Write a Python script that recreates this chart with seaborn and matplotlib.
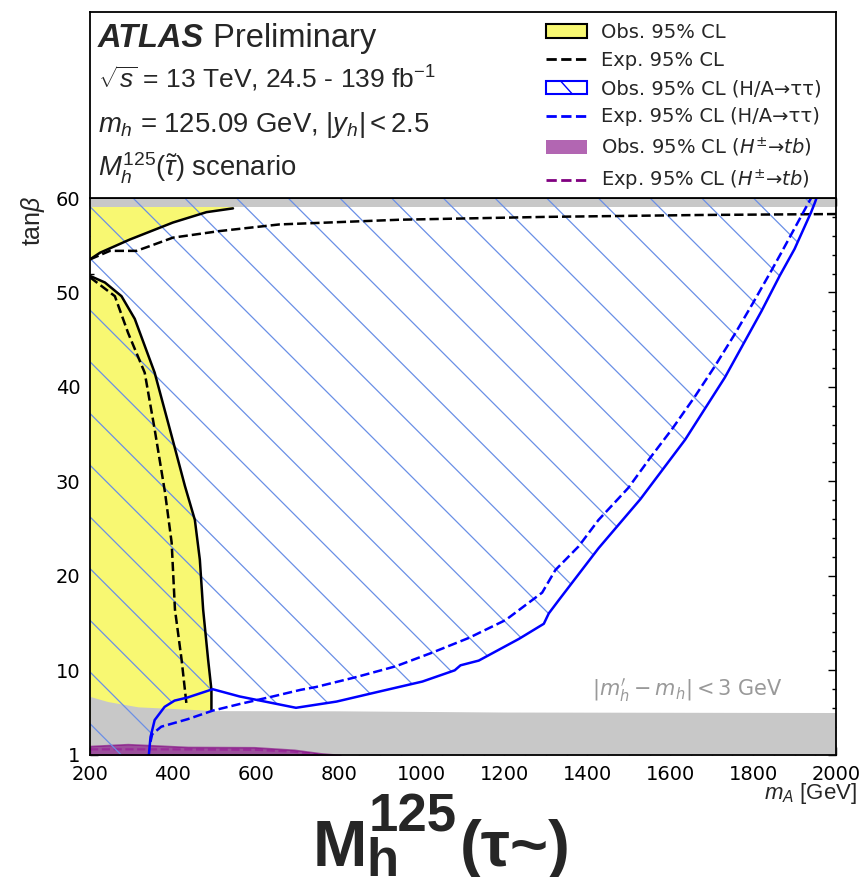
import numpy as np
import matplotlib
matplotlib.use("Agg")
import matplotlib.pyplot as plt
import seaborn as sns
from matplotlib import font_manager
from matplotlib.patches import Polygon, Rectangle, Patch
from matplotlib.lines import Line2D
from matplotlib.collections import LineCollection
from matplotlib.legend_handler import HandlerBase
from matplotlib.font_manager import FontProperties
from matplotlib.ticker import MultipleLocator, FixedLocator

# ---------------- exclusion contours (m_A [GeV], tan beta) ----------------
# observed H/A -> tautau
mA_obs_tt = [342, 346, 356, 380, 404, 436, 496, 561, 697, 795, 898, 1002, 1080, 1094,
             1138, 1235, 1295, 1307, 1331, 1427, 1528, 1636, 1732, 1820, 1864, 1900,
             1940, 1949, 1953]
tanb_obs_tt = [1.0, 2.9, 4.7, 6.1, 6.76, 7.1, 7.97, 7.2, 6.0, 6.66, 7.72, 8.78, 9.97, 10.5,
               11.0, 13.3, 14.9, 16.0, 17.4, 22.9, 28.1, 34.4, 41.0, 48.0, 51.75, 54.6,
               58.5, 59.5, 60.0]
# expected H/A -> tautau
mA_exp_tt = [346, 350, 372, 436, 496, 561, 641, 708, 745, 842, 938, 1026, 1114, 1203,
             1291, 1323, 1379, 1427, 1499, 1552, 1604, 1660, 1708, 1756, 1800, 1844,
             1868, 1925, 1940]
tanb_exp_tt = [2.4, 3.2, 4.0, 4.8, 5.7, 6.4, 7.2, 7.9, 8.2, 9.25, 10.4, 11.85, 13.4, 15.3,
               18.2, 20.6, 23.1, 25.9, 29.3, 32.5, 35.5, 39.0, 42.2, 45.6, 48.9, 52.3,
               54.2, 58.8, 60.0]

# combined observed / expected, low-m_A region
mA_obs_low = [200, 236, 276, 308, 356, 397, 429, 453, 465, 473, 485, 493, 493]
tanb_obs_low = [51.75, 51.05, 49.6, 47.2, 41.5, 34.8, 29.5, 25.9, 21.7, 16.4, 11.1, 7.9, 5.8]
mA_exp_low = [200, 260, 292, 332, 356, 381, 397, 405, 421, 433]
tanb_exp_low = [51.6, 49.6, 45.7, 41.5, 35.5, 28.8, 23.5, 16.4, 11.1, 6.3]

# combined observed / expected, high-tan beta region
mA_obs_high = [200, 224, 296, 400, 481, 545]
tanb_obs_high = [53.5, 54.2, 55.6, 57.4, 58.5, 58.9]
mA_exp_high = [200, 248, 312, 344, 400, 513, 657, 948, 1300, 1672, 2000]
tanb_exp_high = [53.5, 54.4, 54.4, 54.9, 55.8, 56.5, 57.2, 57.7, 58.0, 58.2, 58.3]

# H+ -> tb
mA_hp_obs = [200, 291, 436, 596, 693, 756, 804]
tanb_hp_obs = [1.95, 2.15, 1.85, 1.82, 1.55, 1.18, 1.0]
mA_hp_exp = [200, 400, 600, 690, 750]
tanb_hp_exp = [1.6, 1.6, 1.55, 1.35, 1.05]

# region where |m_h' - m_h| < 3 GeV is not satisfied
mA_mh_band = [200, 243, 316, 436, 500, 800, 1200, 2000]
tanb_mh_band = [7.2, 6.66, 6.1, 5.85, 5.7, 5.68, 5.55, 5.5]
tanb_top_band = [59.0, 60.0]

x_ticks = [200, 400, 600, 800, 1000, 1200, 1400, 1600, 1800, 2000]
y_ticks = [1, 10, 20, 30, 40, 50, 60]

legend_labels = [
    "Obs. 95% CL",
    "Exp. 95% CL",
    "Obs. 95% CL (H/A→ττ)",
    "Exp. 95% CL (H/A→ττ)",
    r"Obs. 95% CL ($H^{\pm}$→$tb$)",
    r"Exp. 95% CL ($H^{\pm}$→$tb$)",
]

# ---------------- style ----------------
sns.set_theme(style="ticks")
plt.rcParams["font.family"] = ["DejaVu Sans"]
plt.rcParams["mathtext.fontset"] = "custom"
plt.rcParams["mathtext.rm"] = "Liberation Sans"
plt.rcParams["mathtext.it"] = "Liberation Sans:italic"
plt.rcParams["mathtext.bf"] = "Liberation Sans:bold"
plt.rcParams["axes.edgecolor"] = "black"
plt.rcParams["axes.linewidth"] = 1.3

installed = {f.name for f in font_manager.fontManager.ttflist}
if "Liberation Sans Narrow" in installed:
    TITLE_FAMILY, TITLE_BIG, TITLE_SMALL = "Liberation Sans Narrow", 58, 40
else:
    TITLE_FAMILY, TITLE_BIG, TITLE_SMALL = "Liberation Sans", 47, 38

YELLOW = "#F8F872"
GRAY = "#C8C8C8"
BLUE = "#0000FF"
HATCH = "#6A8FE6"
PURPLE = "#800080"

W, H = 864, 877
fig = plt.figure(figsize=(W / 100, H / 100), dpi=100)
L, R, B, T, TT = 90, 836, 755, 198, 12
ax = fig.add_axes([L / W, 1 - B / H, (R - L) / W, (B - T) / H])
ax_top = fig.add_axes([L / W, 1 - T / H, (R - L) / W, (T - TT) / H])

ax.set_xlim(x_ticks[0], x_ticks[-1])
ax.set_ylim(y_ticks[0], y_ticks[-1])

# yellow: combined observed exclusion
ax.fill(mA_obs_low + [mA_obs_low[-1], mA_obs_low[0]],
        tanb_obs_low + [y_ticks[0], y_ticks[0]], color=YELLOW, lw=0, zorder=1)
ax.fill_between(mA_obs_high, tanb_obs_high, y_ticks[-1], color=YELLOW, lw=0, zorder=1)

# grey: light-Higgs mass constraint
ax.fill_between(mA_mh_band, y_ticks[0], tanb_mh_band, color=GRAY, lw=0, zorder=2)
ax.axhspan(tanb_top_band[0], tanb_top_band[1], color=GRAY, lw=0, zorder=2)

# purple: H+ -> tb
sns.lineplot(x=mA_hp_exp, y=tanb_hp_exp, sort=False, estimator=None, ax=ax,
             color="#C070C0", lw=1.6, linestyle="--", zorder=3)
ax.fill_between(mA_hp_obs, y_ticks[0], tanb_hp_obs, color=PURPLE, alpha=0.6, lw=1.2,
                edgecolor=PURPLE, zorder=3)

# hatched H/A -> tautau exclusion region
region = [(mA_obs_low[0], y_ticks[0])] + list(zip(mA_obs_tt, tanb_obs_tt)) + \
         [(mA_obs_low[0], y_ticks[-1])]
clip_poly = Polygon(region, closed=True, facecolor="none", edgecolor="none", zorder=4)
ax.add_patch(clip_poly)

fig.canvas.draw()
bb = ax.get_window_extent()
spacing, phase = 51.7, 36.5
kmin = int(np.floor((bb.x0 + bb.y0 - phase) / spacing)) - 1
kmax = int(np.ceil((bb.x1 + bb.y1 - phase) / spacing)) + 1
inv = ax.transData.inverted()
segs = []
for k in range(kmin, kmax + 1):
    c = phase + k * spacing
    p = np.array([[c - (bb.y0 - 5), bb.y0 - 5], [c - (bb.y1 + 5), bb.y1 + 5]])
    segs.append(inv.transform(p))
hatch = LineCollection(segs, colors=HATCH, linewidths=0.9, zorder=4)
ax.add_collection(hatch)
hatch.set_clip_path(clip_poly)

# contour lines
sns.lineplot(x=mA_obs_low, y=tanb_obs_low, sort=False, estimator=None, ax=ax,
             color="black", lw=1.8, zorder=5)
sns.lineplot(x=mA_exp_low, y=tanb_exp_low, sort=False, estimator=None, ax=ax,
             color="black", lw=1.8, linestyle="--", zorder=5)
sns.lineplot(x=mA_obs_high, y=tanb_obs_high, sort=False, estimator=None, ax=ax,
             color="black", lw=1.8, zorder=5)
sns.lineplot(x=mA_exp_high, y=tanb_exp_high, sort=False, estimator=None, ax=ax,
             color="black", lw=1.8, linestyle="--", zorder=5)
sns.lineplot(x=mA_obs_tt, y=tanb_obs_tt, sort=False, estimator=None, ax=ax,
             color=BLUE, lw=1.8, zorder=6)
sns.lineplot(x=mA_exp_tt, y=tanb_exp_tt, sort=False, estimator=None, ax=ax,
             color=BLUE, lw=1.8, linestyle="--", zorder=6)

ax.text(1872, 7.9, r"$|m^{\prime}_h - m_h| < 3$ GeV", ha="right", va="center",
        color="#999999", fontsize=15, family="DejaVu Sans", math_fontfamily="dejavusans",
        zorder=7)

# axes cosmetics
ax.xaxis.set_major_locator(FixedLocator(x_ticks))
ax.xaxis.set_minor_locator(MultipleLocator(50))
ax.yaxis.set_major_locator(FixedLocator(y_ticks))
ax.yaxis.set_minor_locator(MultipleLocator(2))
ax.tick_params(which="both", direction="in", top=True, right=True, colors="black",
               labelsize=14, width=1.0)
ax.tick_params(which="major", length=5.8)
ax.tick_params(which="minor", length=3.0)
ax.tick_params(axis="x", pad=7)
ax.tick_params(axis="y", pad=7)
ax.set_xlabel("")
ax.set_ylabel("")
for s in ax.spines.values():
    s.set_visible(True)
    s.set_zorder(10)

ax_top.set_xticks([])
ax_top.set_yticks([])
for s in ax_top.spines.values():
    s.set_visible(True)

fig.text(857 / W, 1 - 794 / H, r"$m_A$ [GeV]", ha="right", va="center",
         fontsize=16, family="Liberation Sans")
fig.text(33 / W, 1 - 196 / H, r"tan$\beta$", ha="center", va="top", rotation=90,
         fontsize=18, family="Liberation Sans")

# labels in the header box
t_atlas = fig.text(98 / W, 1 - 47 / H, "ATLAS", fontsize=23.5, fontweight="bold",
                   fontstyle="italic", family="Liberation Sans", va="baseline")
ax_top.annotate(" Preliminary", xy=(1, 0), xycoords=t_atlas, va="bottom", ha="left",
                fontsize=23.5, family="Liberation Sans", annotation_clip=False)
fig.text(98 / W, 1 - 88 / H, r"$\sqrt{s}$ = 13 TeV, 24.5 - 139 fb$^{-1}$", fontsize=19,
         family="Liberation Sans", va="baseline")
fig.text(98 / W, 1 - 132 / H, r"$m_h$ = 125.09 GeV, $|y_h| < 2.5$", fontsize=19.8,
         family="Liberation Sans", va="baseline")
fig.text(98 / W, 1 - 177 / H, r"$M_h^{125}(\tilde{\tau})$ scenario", fontsize=19.8,
         family="Liberation Sans", va="baseline")


class HatchBoxHandler(HandlerBase):
    def create_artists(self, legend, orig_handle, xdescent, ydescent, width, height,
                       fontsize, trans):
        x0, y0 = -xdescent, -ydescent
        rect = Rectangle((x0, y0), width, height, facecolor="white", edgecolor=BLUE,
                         lw=1.5, transform=trans)
        line = Line2D([x0 + 0.35 * width, x0 + 0.65 * width], [y0 + height, y0],
                      color=BLUE, lw=1.0, transform=trans)
        return [rect, line]


h_obs = Patch(facecolor=YELLOW, edgecolor="black", lw=1.5)
h_exp = Line2D([], [], color="black", lw=2, linestyle="--")
h_obs_tt = Patch(facecolor="white", edgecolor=BLUE)
h_exp_tt = Line2D([], [], color=BLUE, lw=2, linestyle="--")
h_obs_hp = Patch(facecolor=PURPLE, alpha=0.6, edgecolor="none")
h_exp_hp = Line2D([], [], color=PURPLE, lw=2, linestyle="--")

leg_font = FontProperties(family="DejaVu Sans", size=14, math_fontfamily="dejavusans")
ax_top.legend([h_obs, h_exp, h_obs_tt, h_exp_tt, h_obs_hp, h_exp_hp], legend_labels,
              handler_map={h_obs_tt: HatchBoxHandler()},
              loc="upper left", bbox_to_anchor=(546 / W, 1 - 23 / H),
              bbox_transform=fig.transFigure, frameon=False, borderpad=0,
              borderaxespad=0, handlelength=2.1, handletextpad=0.75,
              labelspacing=0.47, handleheight=0.7, prop=leg_font)

# scenario title below the plot
title_kw = dict(fontweight="bold", family=TITLE_FAMILY, annotation_clip=False,
                ha="left", va="baseline")
t_M = fig.text(313 / W, 1 - 866 / H, "M", fontsize=TITLE_BIG, fontweight="bold",
               family=TITLE_FAMILY, va="baseline")
ax.annotate("h", xy=(1, H - 876), xycoords=(t_M, "figure pixels"), xytext=(-1, 0),
            textcoords="offset points", fontsize=TITLE_SMALL, **title_kw)
t_125 = ax.annotate("125", xy=(1, H - 832), xycoords=(t_M, "figure pixels"),
                    xytext=(1, 0), textcoords="offset points", fontsize=TITLE_SMALL,
                    **title_kw)
ax.annotate("(τ~)", xy=(1, H - 866), xycoords=(t_125, "figure pixels"), xytext=(2, 0),
            textcoords="offset points", fontsize=TITLE_BIG, **title_kw)

fig.savefig("out.png", dpi=100)
